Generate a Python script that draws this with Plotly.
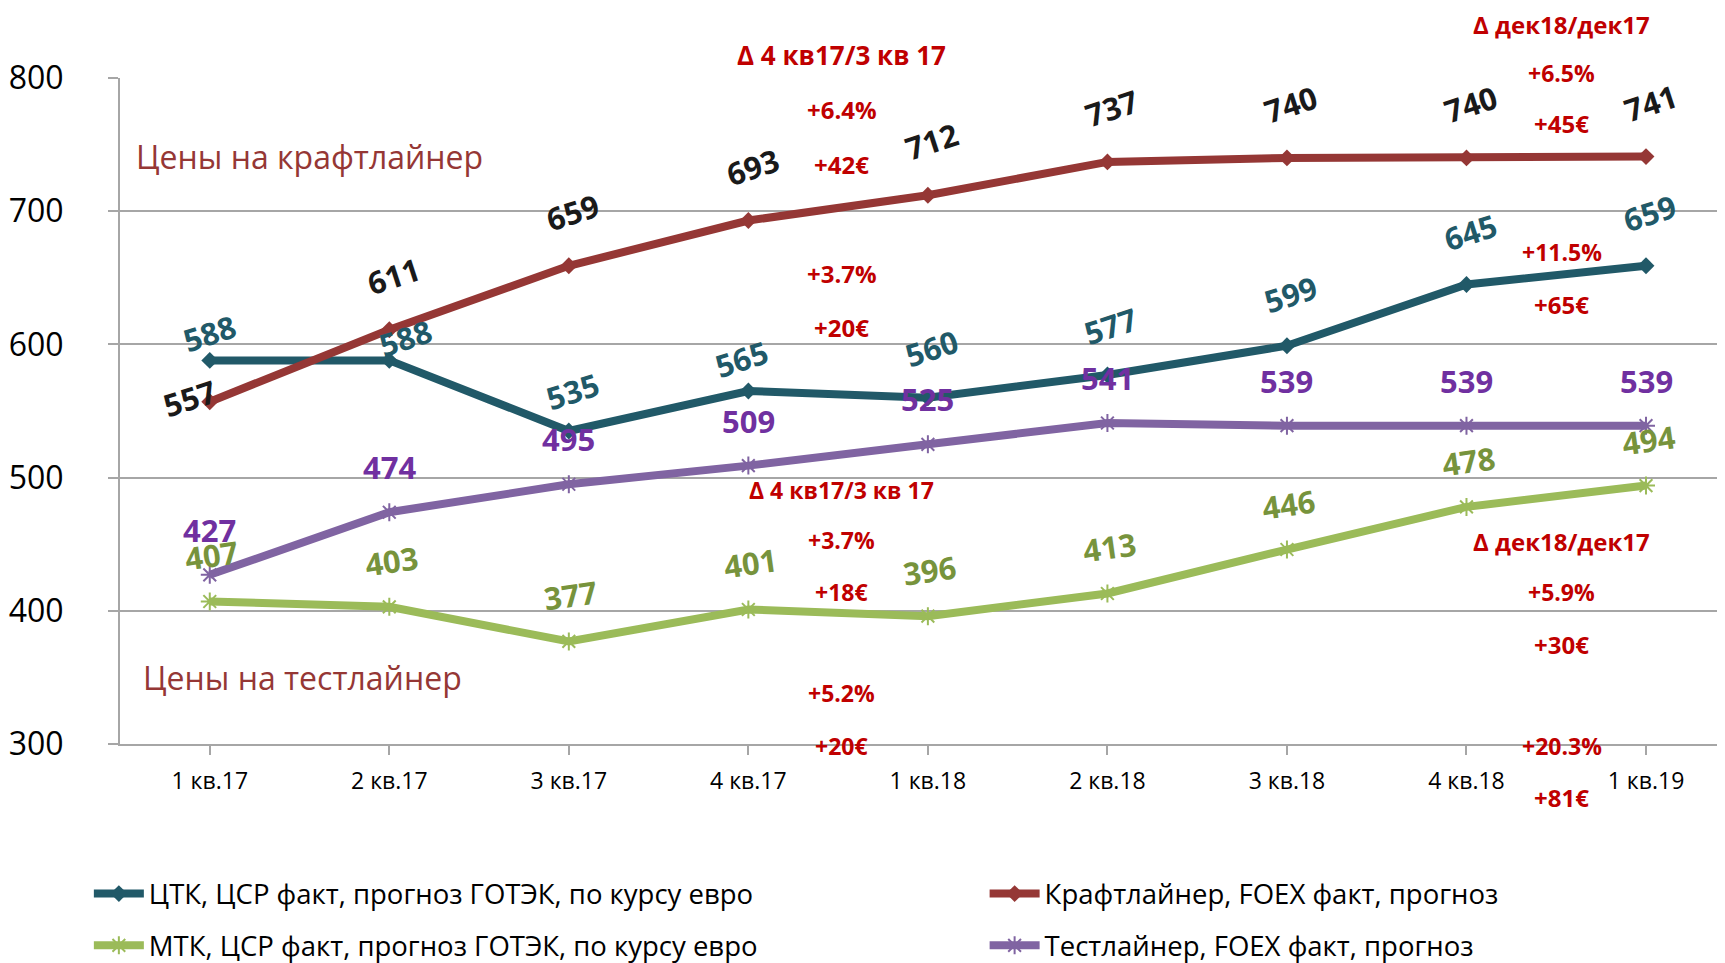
import plotly.graph_objects as go

categories = ["1 кв.17", "2 кв.17", "3 кв.17", "4 кв.17", "1 кв.18",
              "2 кв.18", "3 кв.18", "4 кв.18", "1 кв.19"]
ctk = [588, 588, 535, 565, 560, 577, 599, 645, 659]
kraft = [557, 611, 659, 693, 712, 737, 740, 740, 741]
mtk = [407, 403, 377, 401, 396, 413, 446, 478, 494]
test = [427, 474, 495, 509, 525, 541, 539, 539, 539]

names = {
    "ctk": "ЦТК, ЦСР факт, прогноз ГОТЭК, по курсу евро",
    "kraft": "Крафтлайнер, FOEX факт, прогноз",
    "mtk": "МТК, ЦСР факт, прогноз ГОТЭК, по курсу евро",
    "test": "Тестлайнер, FOEX факт, прогноз",
}

# delta notes: text, x position (category units), y level (value units), font size
delta_texts = ["Δ 4 кв17/3 кв 17", "+6.4%", "+42€", "+3.7%", "+20€",
               "Δ 4 кв17/3 кв 17", "+3.7%", "+18€", "+5.2%", "+20€",
               "Δ дек18/дек17", "+6.5%", "+45€", "+11.5%", "+65€",
               "Δ дек18/дек17", "+5.9%", "+30€", "+20.3%", "+81€"]
delta_y = [817, 776, 735, 653, 613,
           491, 453, 414, 338, 298.5,
           840, 804, 766, 669, 630,
           452, 414, 375, 298.5, 260]
delta_x = [3.52] * 10 + [7.53] * 10
delta_size = [26, 24, 24, 24, 24, 23, 23, 23, 23, 23,
              24, 23, 24, 23, 24, 24, 23, 24, 23, 24]

C_CTK = "#215968"
C_KRAFT = "#953735"
C_MTK = "#9BBB59"
C_TEST = "#8064A2"
FONT = "Open Sans"
Y0, Y1 = 300, 800

x = list(range(len(categories)))
fig = go.Figure()

fig.add_trace(go.Scatter(x=x, y=ctk, name=names["ctk"], mode="lines+markers",
                         line=dict(color=C_CTK, width=8),
                         marker=dict(symbol="diamond", size=13, color=C_CTK),
                         legend="legend", legendgroup="a"))
fig.add_trace(go.Scatter(x=x, y=mtk, name=names["mtk"], mode="lines+markers",
                         line=dict(color=C_MTK, width=8),
                         marker=dict(symbol="asterisk-open", size=15,
                                     line=dict(color=C_MTK, width=2)),
                         legend="legend", legendgroup="b"))
fig.add_trace(go.Scatter(x=x, y=kraft, name=names["kraft"], mode="lines+markers",
                         line=dict(color=C_KRAFT, width=8),
                         marker=dict(symbol="diamond", size=13, color=C_KRAFT),
                         legend="legend2", legendgroup="c"))
fig.add_trace(go.Scatter(x=x, y=test, name=names["test"], mode="lines+markers",
                         line=dict(color=C_TEST, width=8),
                         marker=dict(symbol="asterisk-open", size=15,
                                     line=dict(color=C_TEST, width=2)),
                         legend="legend2", legendgroup="d"))

LS = 31
ann = []
for i, v in enumerate(kraft):
    dx, dy = (-20, 4) if i == 0 else (4, 54)
    ann.append(dict(x=i, y=v, text=str(v), showarrow=False, xshift=dx, yshift=dy,
                    textangle=-18, font=dict(family=FONT, size=LS, color="#1a1a1a", weight="bold")))
ctk_off = [(0, 27), (16, 22), (4, 40), (-7, 32), (4, 50), (3, 49), (4, 52), (4, 52), (3, 53)]
for i, v in enumerate(ctk):
    dx, dy = ctk_off[i]
    ann.append(dict(x=i, y=v, text=str(v), showarrow=False, xshift=dx, yshift=dy,
                    textangle=-18, font=dict(family=FONT, size=LS, color=C_CTK, weight="bold")))
for i, v in enumerate(test):
    ann.append(dict(x=i, y=v, text=str(v), showarrow=False, xshift=0, yshift=45,
                    font=dict(family=FONT, size=LS, color="#7030A0", weight="bold")))
for i, v in enumerate(mtk):
    ann.append(dict(x=i, y=v, text=str(v), showarrow=False, xshift=2, yshift=46,
                    textangle=-8, font=dict(family=FONT, size=LS, color="#77933C", weight="bold")))
for a in ann:
    a["xref"] = "x"
    a["yref"] = "y"

for t, xx, yy, s in zip(delta_texts, delta_x, delta_y, delta_size):
    ann.append(dict(x=xx, xref="x", y=(yy - Y0) / (Y1 - Y0), yref="paper", text=t,
                    xanchor="center", yanchor="middle", showarrow=False,
                    font=dict(family=FONT, size=s, color="#C00000", weight="bold")))

ann.append(dict(x=0.009, xref="paper", y=(741 - Y0) / (Y1 - Y0), yref="paper",
                xanchor="left", yanchor="middle",
                text="Цены на крафтлайнер", showarrow=False,
                font=dict(family=FONT, size=32, color=C_KRAFT)))
ann.append(dict(x=0.013, xref="paper", y=(350 - Y0) / (Y1 - Y0), yref="paper",
                xanchor="left", yanchor="middle",
                text="Цены на тестлайнер", showarrow=False,
                font=dict(family=FONT, size=32, color=C_KRAFT)))

fig.update_layout(
    width=1725, height=963,
    margin=dict(l=112, r=8, t=70, b=227, autoexpand=False),
    paper_bgcolor="white", plot_bgcolor="white",
    font=dict(family=FONT, color="black"),
    annotations=ann,
    xaxis=dict(range=[-0.5, 8.44], tickmode="array", tickvals=x, ticktext=categories,
               showgrid=False, zeroline=False, showline=True, linecolor="#A6A6A6", linewidth=2,
               ticks="outside", ticklen=9, tickcolor="#A6A6A6", tickwidth=2,
               tickfont=dict(family=FONT, size=23, color="black"), ticklabelstandoff=6),
    yaxis=dict(range=[Y0, Y1], dtick=100, showgrid=True, gridcolor="#A6A6A6", gridwidth=2,
               zeroline=False, showline=True, linecolor="#A6A6A6", linewidth=2,
               ticks="outside", ticklen=10, tickcolor="#A6A6A6", tickwidth=2,
               tickfont=dict(family=FONT, size=32, color="black"), ticklabelstandoff=38),
    legend=dict(x=-0.0194, y=-0.188, xanchor="left", yanchor="top", orientation="v",
                traceorder="grouped", tracegroupgap=13, itemwidth=50,
                font=dict(family=FONT, size=27.5, color="black"), bgcolor="rgba(0,0,0,0)"),
    legend2=dict(x=0.5387, y=-0.188, xanchor="left", yanchor="top", orientation="v",
                 traceorder="grouped", tracegroupgap=13, itemwidth=50,
                 font=dict(family=FONT, size=27.5, color="black"), bgcolor="rgba(0,0,0,0)"),
)

fig.write_html("out.html")
